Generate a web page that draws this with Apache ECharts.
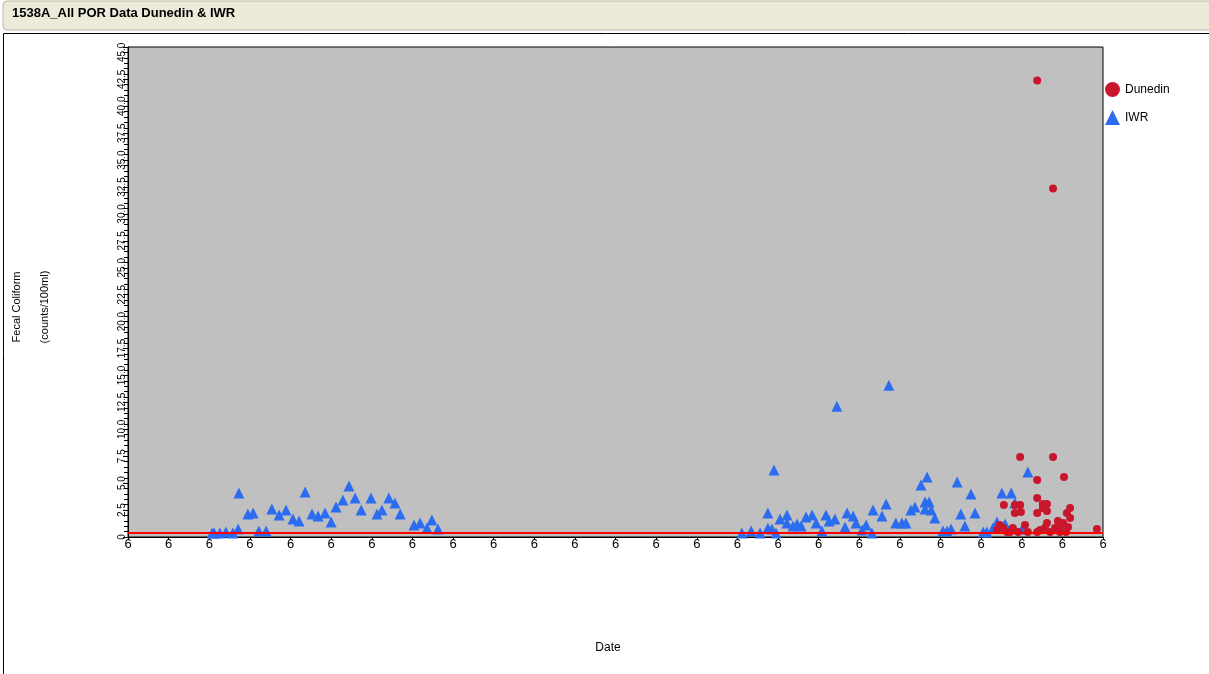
<!DOCTYPE html>
<html>
<head>
<meta charset="utf-8">
<script src="https://cdn.jsdelivr.net/npm/echarts@6/dist/echarts.min.js"></script>
<style>
  html, body { margin: 0; padding: 0; background: #fff; }
  #chart { width: 1209px; height: 674px; }
</style>
</head>
<body>
<div id="chart"></div>
<script>
// IWR samples (decimal year, value)
const iwrDates = [
  1994.07, 1994.12, 1994.26, 1994.41, 1994.58, 1994.71, 1994.73, 1994.95, 1995.08, 1995.22,
  1995.40, 1995.54, 1995.72, 1995.89, 1996.06, 1996.21, 1996.36, 1996.53, 1996.68, 1996.85,
  1997.00, 1997.12, 1997.29, 1997.44, 1997.59, 1997.74, 1997.98, 1998.13, 1998.25, 1998.42,
  1998.57, 1998.70, 1999.04, 1999.19, 1999.36, 1999.48, 1999.63,
  2007.11, 2007.34, 2007.56, 2007.75, 2007.75, 2007.85, 2007.90, 2007.95, 2008.05, 2008.22,
  2008.22, 2008.37, 2008.47, 2008.57, 2008.69, 2008.84, 2008.94, 2009.08, 2009.18, 2009.26,
  2009.40, 2009.45, 2009.65, 2009.70, 2009.85, 2009.92, 2010.07, 2010.17, 2010.31, 2010.34,
  2010.56, 2010.66, 2010.73, 2010.90, 2011.05, 2011.15, 2011.27, 2011.37, 2011.52, 2011.62,
  2011.62, 2011.67, 2011.72, 2011.77, 2011.86, 2012.06, 2012.16, 2012.26, 2012.41, 2012.50,
  2012.60, 2012.75, 2012.85, 2013.05, 2013.14, 2013.29, 2013.39, 2013.51, 2013.59, 2013.74,
  2013.83, 2014.01, 2014.15
];
const iwrValues = [
  0.37, 0.37, 0.37, 0.46, 0.37, 0.74, 4.08, 2.13, 2.23, 0.56,
  0.56, 2.60, 2.04, 2.50, 1.67, 1.48, 4.17, 2.13, 1.95, 2.23,
  1.39, 2.78, 3.43, 4.73, 3.62, 2.50, 3.62, 2.13, 2.50, 3.62,
  3.15, 2.13, 1.11, 1.30, 0.83, 1.58, 0.74,
  0.37, 0.56, 0.37, 2.23, 0.83, 0.74, 6.22, 0.37, 1.67, 2.04,
  1.30, 1.02, 1.21, 1.02, 1.86, 2.04, 1.30, 0.56, 2.04, 1.48,
  1.67, 12.15, 0.93, 2.23, 1.95, 1.30, 0.65, 1.11, 0.37, 2.50,
  1.95, 3.06, 14.10, 1.30, 1.30, 1.30, 2.50, 2.78, 4.82, 3.25,
  2.60, 5.57, 3.25, 2.50, 1.76, 0.56, 0.56, 0.74, 5.10, 2.13,
  1.02, 3.99, 2.23, 0.46, 0.46, 0.83, 1.39, 4.08, 1.21, 4.08,
  3.15, 0.74, 6.03
];

// Dunedin samples (decimal year, value)
const dunDates = [
  2013.39, 2013.46, 2013.54, 2013.56, 2013.64, 2013.71, 2013.78, 2013.83, 2013.83, 2013.91,
  2013.96, 2013.96, 2013.98, 2014.08, 2014.15, 2014.38, 2014.38, 2014.38, 2014.38, 2014.38,
  2014.45, 2014.52, 2014.52, 2014.57, 2014.62, 2014.62, 2014.62, 2014.70, 2014.77, 2014.77,
  2014.82, 2014.89, 2014.94, 2014.94, 2015.02, 2015.04, 2015.09, 2015.11, 2015.14, 2015.19,
  2015.19, 2015.85
];
const dunValues = [
  0.65, 1.11, 0.83, 2.97, 0.46, 0.46, 0.83, 2.97, 2.23, 0.46,
  7.42, 2.97, 2.32, 1.11, 0.46, 5.29, 3.62, 2.23, 0.46, 42.39,
  0.65, 3.06, 2.69, 0.83, 3.06, 2.41, 1.30, 0.46, 7.42, 32.37,
  0.83, 1.48, 0.93, 0.46, 1.30, 5.57, 0.46, 2.23, 0.93, 2.69,
  1.76, 0.74
];

const standardLine = 0.4;
const yearMin = 1992;
const yearMax = 2016;

const font = 'Liberation Sans, Arial, sans-serif';
const red = '#c8172d';
const blue = '#2b6cf0';

const chart = echarts.init(document.getElementById('chart'));

chart.setOption({
  animation: false,
  textStyle: { fontFamily: font },
  graphic: [
    {
      type: 'rect',
      shape: { x: 3, y: 1, width: 1220, height: 29, r: 4 },
      style: { fill: '#ecead9', stroke: '#b9b7a8', lineWidth: 1 }
    },
    {
      type: 'text',
      left: 12, top: 7,
      style: { text: '1538A_All POR Data Dunedin & IWR', font: 'bold 13px ' + font, fill: '#000' }
    },
    {
      type: 'polyline',
      shape: { points: [[3.5, 674], [3.5, 33.5], [1209, 33.5]] },
      style: { stroke: '#000', lineWidth: 1, fill: null }
    },
    {
      type: 'text',
      x: 17, y: 307, rotation: Math.PI / 2,
      style: { text: 'Fecal Coliform', font: '11px ' + font, fill: '#000', align: 'center', verticalAlign: 'middle' }
    },
    {
      type: 'text',
      x: 45, y: 307, rotation: Math.PI / 2,
      style: { text: '(counts/100ml)', font: '11px ' + font, fill: '#000', align: 'center', verticalAlign: 'middle' }
    },
    {
      type: 'text',
      x: 608, y: 648,
      style: { text: 'Date', font: '12px ' + font, fill: '#000', align: 'center', verticalAlign: 'middle' }
    }
  ],
  grid: {
    left: 128, right: 106, top: 47, bottom: 137,
    show: true, backgroundColor: '#c0c0c0', borderColor: '#000', borderWidth: 1
  },
  legend: {
    orient: 'vertical',
    left: 1100, top: 77,
    itemWidth: 15, itemHeight: 15, itemGap: 13,
    textStyle: { fontSize: 12, color: '#000', fontFamily: font },
    data: [
      { name: 'Dunedin', icon: 'circle' },
      { name: 'IWR', icon: 'triangle' }
    ]
  },
  xAxis: {
    type: 'value',
    min: yearMin, max: yearMax, interval: 1,
    axisLine: { lineStyle: { color: '#000' } },
    axisTick: { show: true, length: 3, lineStyle: { color: '#000' } },
    splitLine: { show: false },
    axisLabel: {
      color: '#000', fontSize: 13, margin: 1,
      width: 9, overflow: 'truncate', ellipsis: '',
      formatter: v => '6/1/' + v
    }
  },
  yAxis: {
    type: 'value',
    min: 0, max: 45.5, interval: 2.5,
    axisLine: { show: true, lineStyle: { color: '#000' } },
    axisTick: { show: true, length: 5, lineStyle: { color: '#000' } },
    minorTick: { show: true, splitNumber: 5, length: 4, lineStyle: { color: '#000' } },
    splitLine: { show: false },
    axisLabel: {
      color: '#000', fontSize: 10, rotate: 90, margin: 1, showMaxLabel: false,
      formatter: v => (v === 0 ? '0' : v.toFixed(1))
    }
  },
  series: [
    {
      name: 'IWR',
      type: 'scatter',
      symbol: 'triangle',
      symbolSize: 11,
      itemStyle: { color: blue, opacity: 1 },
      data: iwrDates.map((d, i) => [d, iwrValues[i]]),
      markLine: {
        silent: true,
        symbol: 'none',
        label: { show: false },
        lineStyle: { color: '#ff0000', width: 2, type: 'solid' },
        data: [{ yAxis: standardLine }]
      }
    },
    {
      name: 'Dunedin',
      type: 'scatter',
      symbol: 'circle',
      symbolSize: 8,
      itemStyle: { color: red, opacity: 1 },
      data: dunDates.map((d, i) => [d, dunValues[i]])
    }
  ]
});
</script>
</body>
</html>
